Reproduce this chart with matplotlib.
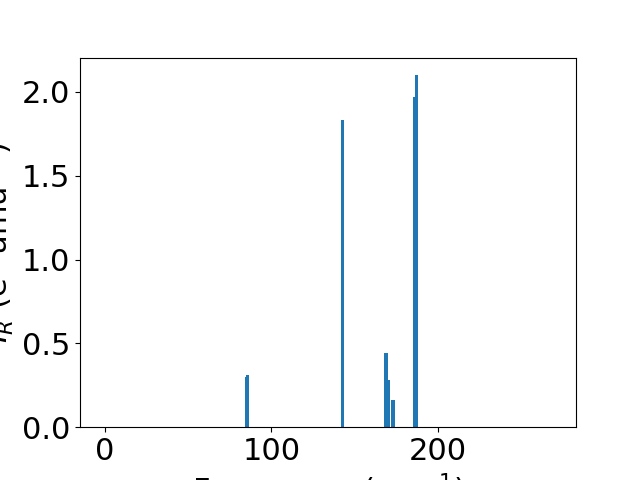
import matplotlib
matplotlib.use("Agg")
import matplotlib.pyplot as plt

# mode frequencies (cm^-1) and intensities
freqs = [84.9, 85.8, 142.6, 168.8, 170.3, 173.0, 185.9, 187.1]
intensities = [0.30, 0.31, 1.83, 0.44, 0.28, 0.16, 1.97, 2.10]

plt.rcParams['font.size'] = 22

fig, ax = plt.subplots(figsize=(6.4, 4.8), dpi=100)
ax.bar(freqs, intensities, width=2.0, color='#1f77b4')
ax.set_xlim(-15, 283)
ax.set_xlabel('Frequency (cm$^{-1}$)')
ax.set_ylabel('$I_R$ (e$^2$ amu$^{-1}$)')

fig.savefig('out.png')
